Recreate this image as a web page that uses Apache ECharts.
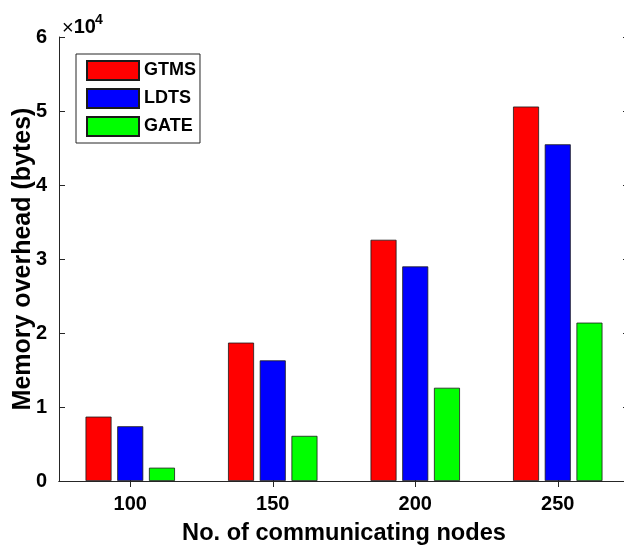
<!DOCTYPE html>
<html>
<head>
<meta charset="utf-8">
<script src="https://cdn.jsdelivr.net/npm/echarts@6/dist/echarts.min.js"></script>
<style>
  html, body { margin: 0; padding: 0; background: #fff; }
  #chart { width: 624px; height: 545px; }
</style>
</head>
<body>
<div id="chart"></div>
<script>
// Node counts on the x axis
const categories = ['100', '150', '200', '250'];
// Memory overhead in bytes per scheme
const gtms = [8700, 18700, 32600, 50600];
const ldts = [7400, 16300, 29000, 45500];
const gate = [1800, 6100, 12600, 21400];
// y tick values (drawn divided by 1e4)
const yTicks = [0, 10000, 20000, 30000, 40000, 50000, 60000];

const FONT = '"Liberation Sans", Arial, Helvetica, sans-serif';
const AXIS_COLOR = '#262626';

const chart = echarts.init(document.getElementById('chart'), null, { renderer: 'canvas' });

const lineStyle = { color: AXIS_COLOR, width: 1 };
const yMin = yTicks[0], yMax = yTicks[yTicks.length - 1], yStep = yTicks[1] - yTicks[0];

function barSeries(name, data, color) {
  return {
    name: name,
    type: 'bar',
    data: data,
    barWidth: 26,
    barGap: '22%',
    itemStyle: { color: color, borderColor: '#1a1a1a', borderWidth: 0.8 },
    emphasis: { disabled: true }
  };
}

chart.setOption({
  backgroundColor: '#ffffff',
  animation: false,
  textStyle: { fontFamily: FONT },
  grid: { left: 59, top: 37, width: 570, height: 444, containLabel: false, outerBoundsMode: 'none' },
  legend: {
    orient: 'vertical',
    left: 76,
    top: 54,
    itemWidth: 52,
    itemHeight: 19,
    itemGap: 7,
    padding: [6, 4, 6, 10],
    borderColor: AXIS_COLOR,
    borderWidth: 1,
    backgroundColor: '#ffffff',
    icon: 'rect',
    textStyle: { fontFamily: FONT, fontWeight: 'bold', fontSize: 18, color: '#000' },
    data: ['GTMS', 'LDTS', 'GATE']
  },
  xAxis: [
    {
      type: 'category',
      data: categories,
      position: 'bottom',
      axisLine: { show: true, lineStyle: lineStyle },
      axisTick: { show: true, inside: true, alignWithLabel: true, length: 6, lineStyle: lineStyle },
      axisLabel: { fontFamily: FONT, fontWeight: 'bold', fontSize: 20, color: '#000', margin: 13 },
      splitLine: { show: false },
      name: 'No. of communicating nodes',
      nameLocation: 'middle',
      nameGap: 40,
      nameMoveOverlap: false,
      nameTextStyle: { fontFamily: FONT, fontWeight: 'bold', fontSize: 23.6, color: '#000' }
    },
    {
      type: 'category',
      data: categories,
      position: 'top',
      axisLine: { show: true, lineStyle: lineStyle },
      axisTick: { show: true, inside: true, alignWithLabel: true, length: 6, lineStyle: lineStyle },
      axisLabel: { show: false },
      splitLine: { show: false }
    }
  ],
  yAxis: [
    {
      type: 'value',
      position: 'left',
      min: yMin,
      max: yMax,
      interval: yStep,
      axisLine: { show: true, lineStyle: lineStyle },
      axisTick: { show: true, inside: true, length: 6, lineStyle: lineStyle },
      axisLabel: {
        fontFamily: FONT, fontWeight: 'bold', fontSize: 20, color: '#000', margin: 12,
        formatter: v => String(v / 10000)
      },
      splitLine: { show: false },
      name: 'Memory overhead (bytes)',
      nameLocation: 'middle',
      nameGap: 23,
      nameMoveOverlap: false,
      nameTextStyle: { fontFamily: FONT, fontWeight: 'bold', fontSize: 25, color: '#000' }
    },
    {
      type: 'value',
      position: 'right',
      min: yMin,
      max: yMax,
      interval: yStep,
      axisLine: { show: true, lineStyle: lineStyle },
      axisTick: { show: true, inside: true, length: 6, lineStyle: lineStyle },
      axisLabel: { show: false },
      splitLine: { show: false }
    }
  ],
  series: [
    barSeries('GTMS', gtms, '#ff0000'),
    barSeries('LDTS', ldts, '#0000ff'),
    barSeries('GATE', gate, '#00ff00')
  ],
  graphic: [
    {
      type: 'text',
      left: 62,
      top: 17,
      style: {
        text: '{x|×}{b|10}',
        rich: {
          x: { fontFamily: FONT, fontSize: 20, color: '#000', padding: [2, 0, 0, 0] },
          b: { fontFamily: FONT, fontSize: 20, fontWeight: 'bold', color: '#000' }
        }
      }
    },
    {
      type: 'text',
      left: 95,
      top: 13,
      style: { text: '4', fontFamily: FONT, fontSize: 14, fontWeight: 'bold', fill: '#000' }
    }
  ]
});
</script>
</body>
</html>
